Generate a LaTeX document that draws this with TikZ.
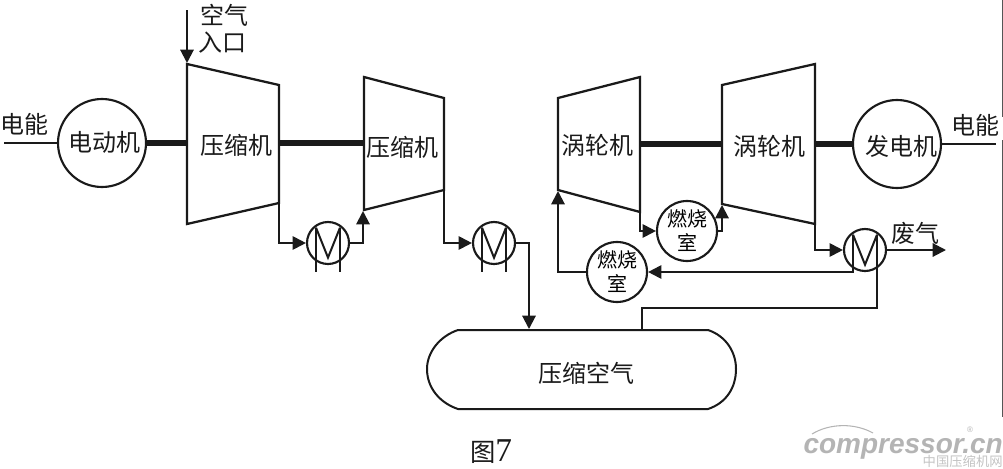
\documentclass[tikz,border=0pt]{standalone}
\usepackage{fontspec}
\setmainfont{Noto Sans CJK SC}
\newfontfamily\latinserif{Liberation Serif}
\newfontfamily\wmfont{Liberation Sans}
\usetikzlibrary{arrows.meta}
\definecolor{ink}{HTML}{1A1A1A}
\definecolor{wmgray}{HTML}{B4B4B4}
\definecolor{edgegray}{HTML}{555555}
\tikzset{
  line/.style={draw=ink,line width=1.5pt},
  flow/.style={line,-{Triangle[length=10pt,width=10pt]}},
  shaft/.style={draw=ink,line width=4pt},
  machine/.style={draw=ink,line width=1.7pt,line join=miter},
  unit/.style={circle,draw=ink,line width=1.6pt,inner sep=0pt,fill=white},
  bigunit/.style={unit,minimum size=66pt},
  burner/.style={unit,minimum size=45pt,font=\fontsize{15}{18}\selectfont,align=center},
  cooler/.style={unit,minimum size=31.5pt},
  lab/.style={inner sep=0pt,font=\fontsize{18}{20}\selectfont,text=ink},
}
\newcommand{\coolerglyph}[1]{%
  \draw[line] ([xshift=-9pt,yshift=11.5pt]#1.center) -- ([xshift=-9pt,yshift=-11.5pt]#1.center);
  \draw[line] ([xshift=9pt,yshift=11.5pt]#1.center) -- ([xshift=9pt,yshift=-11.5pt]#1.center);
  \draw[line] ([xshift=-9pt,yshift=11.5pt]#1.center) -- ([xshift=0pt,yshift=-11pt]#1.center) -- ([xshift=9pt,yshift=11.5pt]#1.center);
}
\begin{document}
\begin{tikzpicture}[x=0.75pt,y=-0.75pt]
\useasboundingbox (0,0) rectangle (1003,468);
% machines
\draw[machine] (187,64) -- (279,85) -- (279,203) -- (187,224) -- cycle;
\draw[machine] (364,77) -- (444,98) -- (444,190) -- (364,210) -- cycle;
\draw[machine] (558,98) -- (640,77) -- (640,212) -- (558,190) -- cycle;
\draw[machine] (722,85) -- (815,64) -- (815,224) -- (722,204) -- cycle;
\coordinate (c1in) at (279,203);
\coordinate (c2out) at (444,190);
\coordinate (c2in) at (363,211);
\coordinate (t1out) at (640,212);
\coordinate (t1in) at (558,191);
\coordinate (t2in) at (722,205);
\coordinate (t2out) at (815,224);
\coordinate (airtop) at (187,10);
\coordinate (airend) at (187,63);
\coordinate (powerL) at (4,143);
\coordinate (powerR) at (996,144);
% units
\node[bigunit] (motor) at (102,143) {};
\node[bigunit] (gen) at (897,144) {};
\node[cooler] (ic1) at (328,243) {};
\node[cooler] (ic2) at (494,243) {};
\node[cooler] (ic3) at (865,250) {};
\node[burner] (b1) at (687,231) {燃烧\\室};
\node[burner] (b2) at (617,272) {燃烧\\室};
\coolerglyph{ic1}\coolerglyph{ic2}\coolerglyph{ic3}
\draw[line] ([xshift=-9pt]ic1.center) -- ++(0,29);
\draw[line] ([xshift=9pt]ic1.center) -- ++(0,29);
\draw[line] ([xshift=-9pt]ic2.center) -- ++(0,29);
\draw[line] ([xshift=9pt]ic2.center) -- ++(0,29);
% tank
\draw[line,fill=white] (458,330) -- (708,330) .. controls (726,336) and (736,352) .. (736,369) .. controls (736,388) and (726,403) .. (708,409) -- (458,409) .. controls (440,403) and (427,388) .. (427,369) .. controls (427,352) and (440,336) .. (458,330) -- cycle;
\coordinate (tankA) at (529,329);
\coordinate (tankB) at (642,330);
% shafts
\draw[shaft] (motor.east) -- (187,143);
\draw[shaft] (279,143) -- (364,143);
\draw[shaft] (640,144) -- (722,144);
\draw[shaft] (815,144) -- (gen.west);
% flows
\draw[line] (powerL) -- (motor.west);
\draw[line] (gen.east) -- (powerR);
\draw[flow] (airtop) -- (airend);
\draw[flow] (c1in) |- (ic1.west);
\draw[flow] (ic1.east) -| (c2in);
\draw[flow] (c2out) |- (ic2.west);
\draw[flow] (ic2.east) -| (tankA);
\draw[flow] (t1out) |- (b1.west);
\draw[flow] (b1.east) -| (t2in);
\draw[flow] (t2out) |- (ic3.west);
\draw[flow] (ic3.east) -- (946,250);
\draw[flow] ([xshift=-9pt,yshift=-9pt]ic3.center) |- (b2.east);
\draw[flow] (b2.west) -| (t1in);
\draw[line] ([xshift=9pt,yshift=-9pt]ic3.center) |- (642,308) -- (tankB);
% labels
\node[lab] (l1) at (25,124) {电能};
\node[lab] (l2) at (975,125) {电能};
\node[lab] (l3) at (224,15) {空气};
\node[lab] (l4) at (222,43) {入口};
\node[lab] at (104,142) {电动机};
\node[lab] at (236,145) {压缩机};
\node[lab] at (402,147) {压缩机};
\node[lab] at (597,145) {涡轮机};
\node[lab] at (769,146) {涡轮机};
\node[lab] at (901,146) {发电机};
\node[lab] at (915,233) {废气};
\node[lab] at (586,373) {压缩空气};
\node[lab,font=\fontsize{19}{22}\selectfont] at (491,452) {图{\latinserif\fontsize{25}{25}\selectfont 7}};
% watermark
\node[inner sep=0pt,anchor=base east,text=wmgray] (wm) at (1003,453) {\wmfont\bfseries\itshape\fontsize{21}{21}\selectfont compressor.cn};
\node[inner sep=0pt,anchor=east,text=wmgray!80,font=\fontsize{10}{10}\selectfont] (wmcn) at (1003,461) {中国压缩机网};
\node[inner sep=0pt,text=wmgray,font=\fontsize{6}{6}\selectfont] (wmr) at (970,430) {\wmfont ®};
\draw[wmgray,line width=0.8pt] (812,434) .. controls (830,423) and (855,423) .. (873,433);
% edge of scan
\draw[edgegray,line width=1pt] (1002.3,0) -- (1002.3,117) (1002.3,140) -- (1002.3,417);
\end{tikzpicture}
\end{document}
